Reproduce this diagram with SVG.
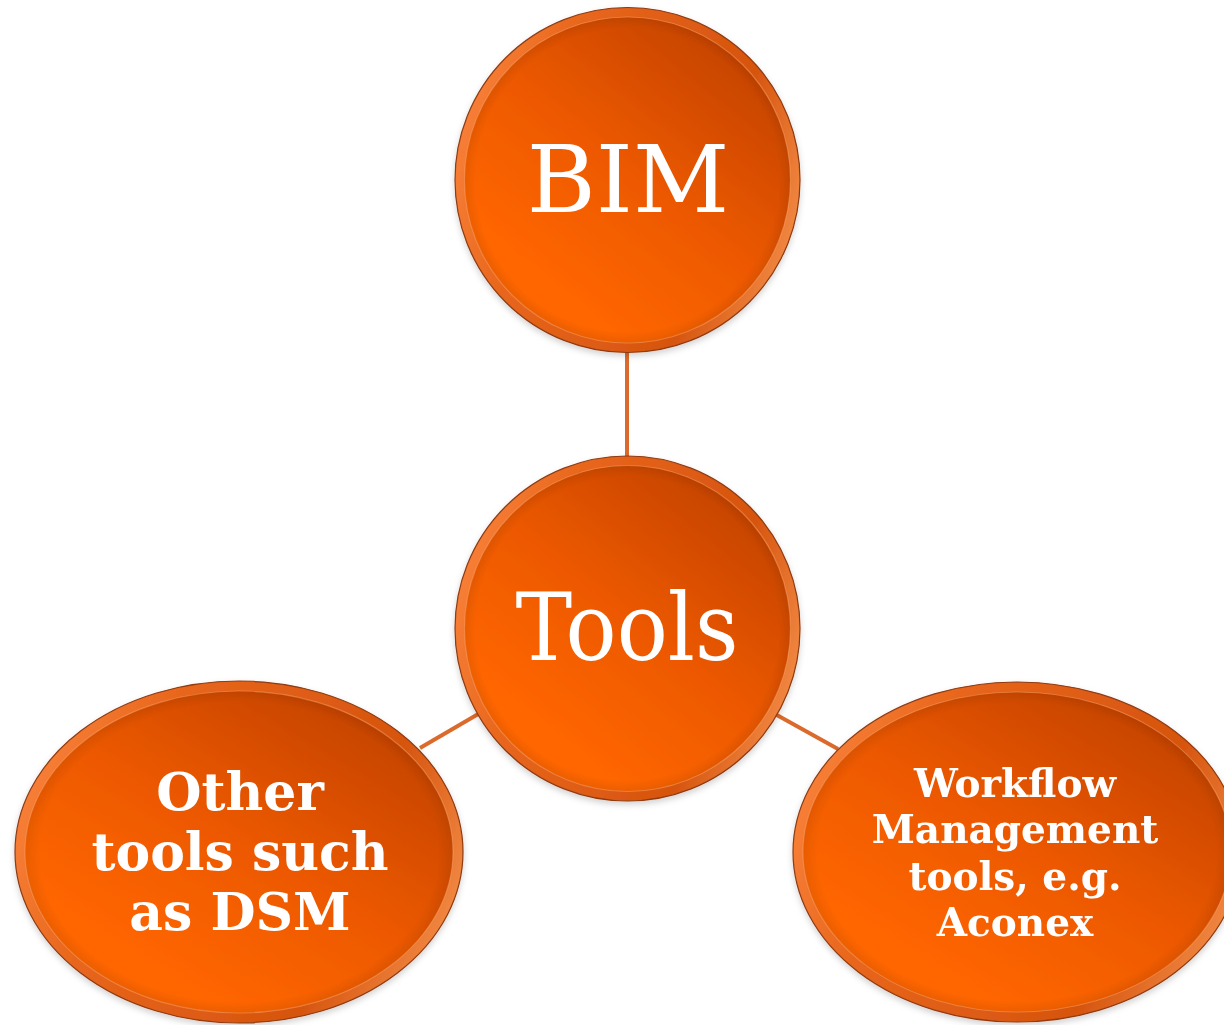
<svg xmlns="http://www.w3.org/2000/svg" width="1224" height="1025" viewBox="0 0 1224 1025">
<defs>
<linearGradient id="body" x1="0.3" y1="0.85" x2="0.9" y2="0.1">
<stop offset="0" stop-color="#ff6600"/>
<stop offset="0.45" stop-color="#ec5800"/>
<stop offset="1" stop-color="#c24200"/>
</linearGradient>
<linearGradient id="rim" x1="0" y1="0.35" x2="1" y2="0.65">
<stop offset="0" stop-color="#f88038"/>
<stop offset="0.25" stop-color="#e8661c"/>
<stop offset="0.75" stop-color="#d6540e"/>
<stop offset="1" stop-color="#f28a44"/>
</linearGradient>
<radialGradient id="shade" cx="0.5" cy="0.5" r="0.5">
<stop offset="0.93" stop-color="#000" stop-opacity="0"/>
<stop offset="1" stop-color="#000" stop-opacity="0.08"/>
</radialGradient>
<filter id="sh" x="-10%" y="-10%" width="120%" height="125%">
<feDropShadow dx="0" dy="3" stdDeviation="3" flood-color="#000" flood-opacity="0.18"/>
</filter>
</defs>
<style>
.outer{fill:url(#rim);stroke:#8f3a12;stroke-width:1.2}
.inner{fill:url(#body);stroke:#ffa064;stroke-width:1.2;stroke-opacity:0.55}
.edge{fill:url(#shade)}
.conn{stroke:#dc6a2c;stroke-width:4;fill:none}
.big{font-family:"DejaVu Serif","Liberation Serif",serif;fill:#fff;text-anchor:middle}
.bold{font-family:"DejaVu Serif","Liberation Serif",serif;font-weight:bold;fill:#fff;text-anchor:middle}
</style>
<rect width="1224" height="1025" fill="#fff"/>
<g id="connectors">
<line class="conn" x1="627" y1="350" x2="627" y2="458"/>
<line class="conn" x1="480" y1="713" x2="420" y2="748"/>
<line class="conn" x1="775" y1="714" x2="838" y2="749"/>
</g>
<g id="node-bim" filter="url(#sh)">
<circle class="outer" cx="627.5" cy="180" r="172.5"/>
<circle class="inner" cx="627.5" cy="180" r="163"/>
<circle class="edge" cx="627.5" cy="180" r="163"/>
<text class="big" x="628" y="212" font-size="94">BIM</text>
</g>
<g id="node-tools" filter="url(#sh)">
<circle class="outer" cx="627.5" cy="628.5" r="172.5"/>
<circle class="inner" cx="627.5" cy="628.5" r="163"/>
<circle class="edge" cx="627.5" cy="628.5" r="163"/>
<text class="big" x="627" y="660" font-size="94" textLength="223" lengthAdjust="spacingAndGlyphs">Tools</text>
</g>
<g id="node-other" filter="url(#sh)">
<ellipse class="outer" cx="239" cy="852" rx="224" ry="171"/>
<ellipse class="inner" cx="239" cy="852" rx="214" ry="161"/>
<ellipse class="edge" cx="239" cy="852" rx="214" ry="161"/>
<text class="bold" font-size="52"><tspan x="240" y="810">Other</tspan><tspan x="240" y="870">tools such</tspan><tspan x="240" y="930">as DSM</tspan></text>
</g>
<g id="node-workflow" filter="url(#sh)">
<ellipse class="outer" cx="1017" cy="852" rx="224" ry="170"/>
<ellipse class="inner" cx="1017" cy="852" rx="214" ry="160"/>
<ellipse class="edge" cx="1017" cy="852" rx="214" ry="160"/>
<text class="bold" font-size="39"><tspan x="1015" y="797">Workflow</tspan><tspan x="1015" y="843">Management</tspan><tspan x="1015" y="890">tools, e.g.</tspan><tspan x="1015" y="936">Aconex</tspan></text>
</g>
</svg>
